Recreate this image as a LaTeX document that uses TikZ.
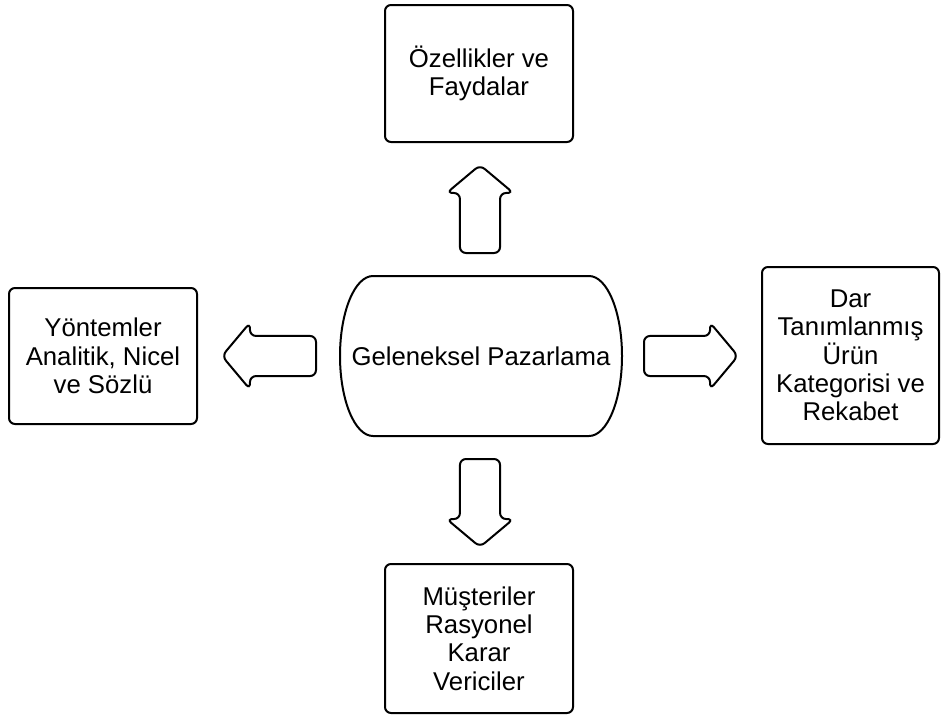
\documentclass[tikz,border=0pt]{standalone}
\usepackage{fontspec}
\setmainfont{Liberation Sans}
\usetikzlibrary{shapes.arrows}

\begin{document}
\begin{tikzpicture}[x=0.75pt,y=0.75pt,yscale=-1,xscale=1,
  txt/.style={font=\fontsize{19.3}{21.2}\selectfont, align=center},
  box/.style={txt, draw, line width=1.5pt, rounded corners=4.5pt, inner sep=0pt},
  blockarrow/.style={draw, line width=1.5pt, single arrow, rounded corners=4.5pt,
    single arrow head indent=0pt, single arrow tip angle=100,
    inner sep=0pt, inner ysep=10pt, minimum width=50pt, anchor=tail}]
\useasboundingbox (0,0) rectangle (941,718);

%Shape: Rectangle [top]
\node[box, minimum width=141pt, minimum height=102.75pt] (feat) at (479,73.5) {Özellikler ve\\Faydalar};
%Shape: Rectangle [left]
\node[box, minimum width=141pt, minimum height=102pt] (meth) at (103,356) {Yöntemler\\Analitik, Nicel\\ve Sözlü};
%Shape: Rectangle [right]
\node[box, minimum width=132.75pt, minimum height=132.75pt] (cat) at (850.5,355.5) {Dar\\Tanımlanmış\\Ürün\\Kategorisi ve\\Rekabet};
%Shape: Rectangle [bottom]
\node[box, minimum width=141pt, minimum height=111.75pt] (cust) at (479,638.5) {Müşteriler\\Rasyonel\\Karar\\Vericiler};

%Shape: Terminator [centre]
\draw[line width=1.5pt] (373,276) -- (589,276) arc[start angle=-90, end angle=90, x radius=33, y radius=80] -- (373,436) arc[start angle=90, end angle=270, x radius=33, y radius=80] -- cycle;
% Text Node
\node[txt] (gp) at (481,356) {Geleneksel Pazarlama};

%Shape: Block Arrows
\node[blockarrow, minimum height=66pt, rotate=90] (upArr) at (480,254) {};
\node[blockarrow, minimum height=66pt, rotate=-90] (downArr) at (480,458) {};
\node[blockarrow, minimum height=70.5pt, rotate=180] (leftArr) at (317,356) {};
\node[blockarrow, minimum height=70.5pt] (rightArr) at (643,356) {};

\end{tikzpicture}
\end{document}
